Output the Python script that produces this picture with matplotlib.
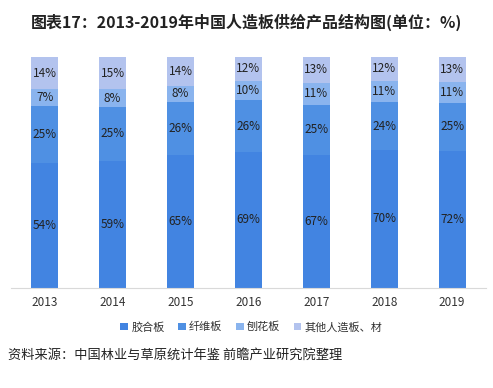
import matplotlib.pyplot as plt
import numpy as np

plt.rcParams['font.family'] = ['Noto Sans CJK SC', 'DejaVu Sans']

years = ['2013', '2014', '2015', '2016', '2017', '2018', '2019']
series = ['胶合板', '纤维板', '刨花板', '其他人造板、材']
plywood = [54, 59, 65, 69, 67, 70, 72]
fiberboard = [25, 25, 26, 26, 25, 24, 25]
particle = [7, 8, 8, 10, 11, 11, 11]
other = [14, 15, 14, 12, 13, 12, 13]
colors = ['#4284e1', '#4f90e3', '#8ab4ee', '#b3c3ee']

data = np.array([plywood, fiberboard, particle, other], dtype=float)
share = data / data.sum(axis=0)

fig = plt.figure(figsize=(4.93, 3.88), dpi=100)
ax = fig.add_axes([0.022, 0.258, 0.964, 0.595])

x = np.arange(len(years))
bottom = np.zeros(len(years))
for i, name in enumerate(series):
    ax.bar(x, share[i], 0.4, bottom=bottom, color=colors[i], label=name)
    for j in range(len(years)):
        ax.text(x[j], bottom[j] + share[i][j] / 2, f'{int(data[i][j])}%',
                ha='center', va='center', fontsize=8.5, color='#222222')
    bottom += share[i]

ax.set_xlim(-0.5, len(years) - 0.5)
ax.set_ylim(0, 1)
ax.set_yticks([])
ax.set_xticks(x)
ax.set_xticklabels(years, fontsize=8.5, color='#333333')
ax.tick_params(axis='x', length=0, pad=6)
for s in ['top', 'left', 'right']:
    ax.spines[s].set_visible(False)
ax.spines['bottom'].set_color('#d9d9d9')

fig.text(0.5, 0.943, '图表17：2013-2019年中国人造板供给产品结构图(单位：%)',
         ha='center', va='center', fontsize=11.5, fontweight='bold', color='#222222')

fig.legend(loc='center', bbox_to_anchor=(0.51, 0.157), ncol=4, frameon=False,
           fontsize=8, handlelength=0.7, handleheight=0.7, handletextpad=0.3,
           columnspacing=1.2, labelcolor='#333333')

fig.text(0.016, 0.085, '资料来源：中国林业与草原统计年鉴 前瞻产业研究院整理',
         ha='left', va='center', fontsize=9.5, color='#222222')

fig.savefig('out.png', dpi=100)
